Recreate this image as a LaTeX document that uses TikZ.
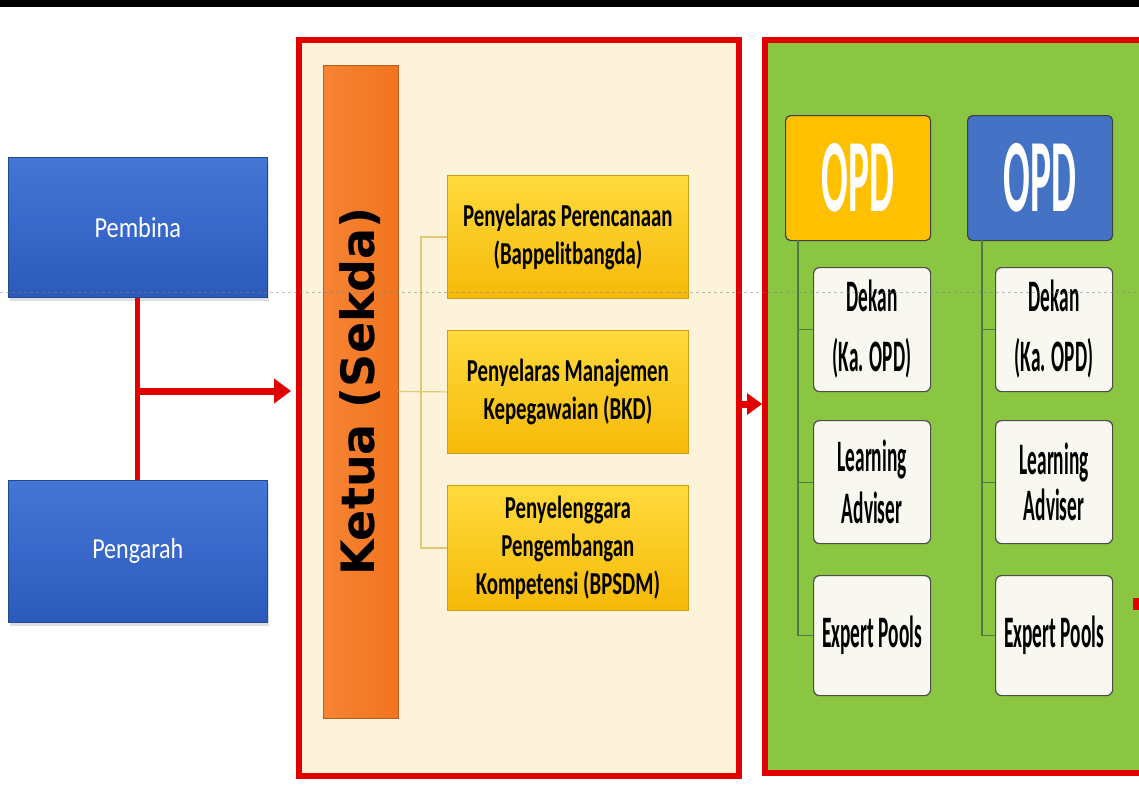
\documentclass[tikz,border=0pt]{standalone}
\usepackage{fontspec}
\usepackage{graphicx}
\setmainfont{Carlito}
\newfontfamily\ketuafont{DejaVu Sans}
\usetikzlibrary{arrows.meta,shadows}
\definecolor{myred}{RGB}{226,0,0}
\definecolor{cream}{RGB}{253,242,218}
\definecolor{leaf}{RGB}{138,198,66}
\definecolor{blueA}{RGB}{68,118,214}
\definecolor{blueB}{RGB}{44,90,188}
\definecolor{orA}{RGB}{246,132,52}
\definecolor{orB}{RGB}{242,116,30}
\definecolor{yelA}{RGB}{255,218,60}
\definecolor{yelB}{RGB}{246,186,8}
\definecolor{yelEdge}{RGB}{205,160,20}
\definecolor{opdOr}{RGB}{255,192,0}
\definecolor{opdBl}{RGB}{68,114,196}
\definecolor{paper}{RGB}{248,248,240}
\definecolor{gconn}{RGB}{80,120,70}
\definecolor{yconn}{RGB}{228,200,120}
\newcommand{\cz}[2][0.43]{\scalebox{#1}[1]{#2}}
\tikzset{
  blbox/.style={top color=blueA, bottom color=blueB, draw=blueB!80!black, line width=0.6pt,
    text=white, inner sep=0pt, anchor=north west, minimum width=259pt,
    font=\fontsize{29}{34}\selectfont,
    drop shadow={opacity=0.25, shadow xshift=2pt, shadow yshift=-4pt}},
  frameL/.style={draw=myred, line width=5.5pt, fill=cream, inner sep=0pt, anchor=north west},
  frameR/.style={draw=myred, line width=5.5pt, fill=leaf, inner sep=0pt, anchor=north west},
  kbar/.style={left color=orA, right color=orB, draw=orB!80!black, line width=0.8pt, inner sep=0pt,
    font=\ketuafont\bfseries\fontsize{46}{46}\selectfont},
  ybox/.style={top color=yelA, bottom color=yelB, draw=yelEdge, line width=0.8pt, inner sep=0pt,
    anchor=north west, minimum width=241pt, align=center,
    font=\bfseries\fontsize{32}{38}\selectfont},
  opdbox/.style={draw=black!75, line width=1.2pt, rounded corners=5pt, inner sep=0pt,
    anchor=north west, minimum width=145pt, minimum height=125pt, text=white,
    font=\bfseries\fontsize{104}{104}\selectfont},
  wbox/.style={draw=black!70, fill=paper, line width=1.2pt, rounded corners=6pt, inner sep=0pt,
    anchor=north west, minimum width=117pt, align=center,
    font=\bfseries\fontsize{45}{60}\selectfont},
  redline/.style={draw=myred, line width=5pt},
  rarrow/.style={draw=myred, line width=7pt, -{Triangle[length=17pt,width=24pt]}},
  gline/.style={draw=gconn, line width=1.2pt},
  yline/.style={draw=yconn, line width=1.2pt}
}
\begin{document}
\begin{tikzpicture}[x=1pt,y=-1pt]
\useasboundingbox (0,0) rectangle (1139,785);
\clip (0,0) rectangle (1139,785);
\fill[white] (0,0) rectangle (1139,785);
\fill[black] (0,0) rectangle (1139,7);

% left boxes
\node[blbox, minimum height=140pt] (pemb) at (8,157) {\cz[0.84]{Pembina}};
\node[blbox, minimum height=142pt] (peng) at (8,480) {\cz[0.83]{Pengarah}};

% frames
\node[frameL, minimum width=440pt, minimum height=736pt] (fL) at (296,37) {};
\node[frameR, minimum width=400pt, minimum height=733pt] (fR) at (762,37) {};

% red connectors
\coordinate (hy) at (0,391);
\coordinate (rj) at (pemb.south |- hy);
\draw[redline] (pemb.south) -- (peng.north);
\draw[rarrow, shorten >=5pt] (rj) -- (rj -| fL.west);
\coordinate (ay) at (0,404);
\draw[draw=myred, line width=7pt, -{Triangle[length=15pt,width=21pt]}] (fL.east |- ay) -- (fR.west |- ay);

% Ketua bar
\node[kbar, rotate=90, minimum width=653pt, minimum height=75pt] (ketua) at (360.5,391.5) {Ketua (Sekda)};

% yellow boxes
\node[ybox, minimum height=123pt] (y1) at (447,175) {\cz[0.65]{Penyelaras Perencanaan}\\\cz[0.65]{(Bappelitbangda)}};
\node[ybox, minimum height=123pt] (y2) at (447,330) {\cz[0.65]{Penyelaras Manajemen}\\\cz[0.65]{Kepegawaian (BKD)}};
\node[ybox, minimum height=125pt] (y3) at (447,485) {\cz[0.65]{Penyelenggara}\\\cz[0.65]{Pengembangan}\\\cz[0.65]{Kompetensi (BPSDM)}};

% cream connectors
\coordinate (kj) at (421,392);
\draw[yline] (ketua.south) -- (y2.west);
\draw[yline] (y1.west) -| (kj) |- (y3.west);

% OPD boxes
\node[opdbox, fill=opdOr] (opd1) at (785,115) {\cz[0.38]{OPD}};
\node[opdbox, fill=opdBl] (opd2) at (967,115) {\cz[0.38]{OPD}};

% white boxes column 1
\node[wbox, minimum height=124pt] (d1) at (813,267) {\cz{Dekan}\\\cz{(Ka. OPD)}};
\node[wbox, minimum height=123pt, font=\bfseries\fontsize{45}{52}\selectfont] (l1) at (813,420) {\cz{Learning}\\\cz{Adviser}};
\node[wbox, minimum height=120pt] (e1) at (813,575) {\cz{Expert Pools}};
% column 2
\node[wbox, minimum height=124pt] (d2) at (995,267) {\cz{Dekan}\\\cz{(Ka. OPD)}};
\node[wbox, minimum height=123pt, font=\bfseries\fontsize{45}{46}\selectfont] (l2) at (995,420) {\cz{Learning}\\\cz{Adviser}};
\node[wbox, minimum height=120pt] (e2) at (995,575) {\cz{Expert Pools}};

% green connectors
\coordinate (c1) at (798,240);
\coordinate (c2) at (982,240);
\draw[gline] (c1) |- (e1.west);
\draw[gline] (c1 |- d1.west) -- (d1.west);
\draw[gline] (c1 |- l1.west) -- (l1.west);
\draw[gline] (c2) |- (e2.west);
\draw[gline] (c2 |- d2.west) -- (d2.west);
\draw[gline] (c2 |- l2.west) -- (l2.west);

% small red mark at right edge
\fill[myred] (1133,598) rectangle (1139,610);

% faint guide line
\draw[gray, opacity=0.5, line width=0.8pt, dash pattern=on 3pt off 3pt] (0,292) -- (1139,292);
\end{tikzpicture}
\end{document}
